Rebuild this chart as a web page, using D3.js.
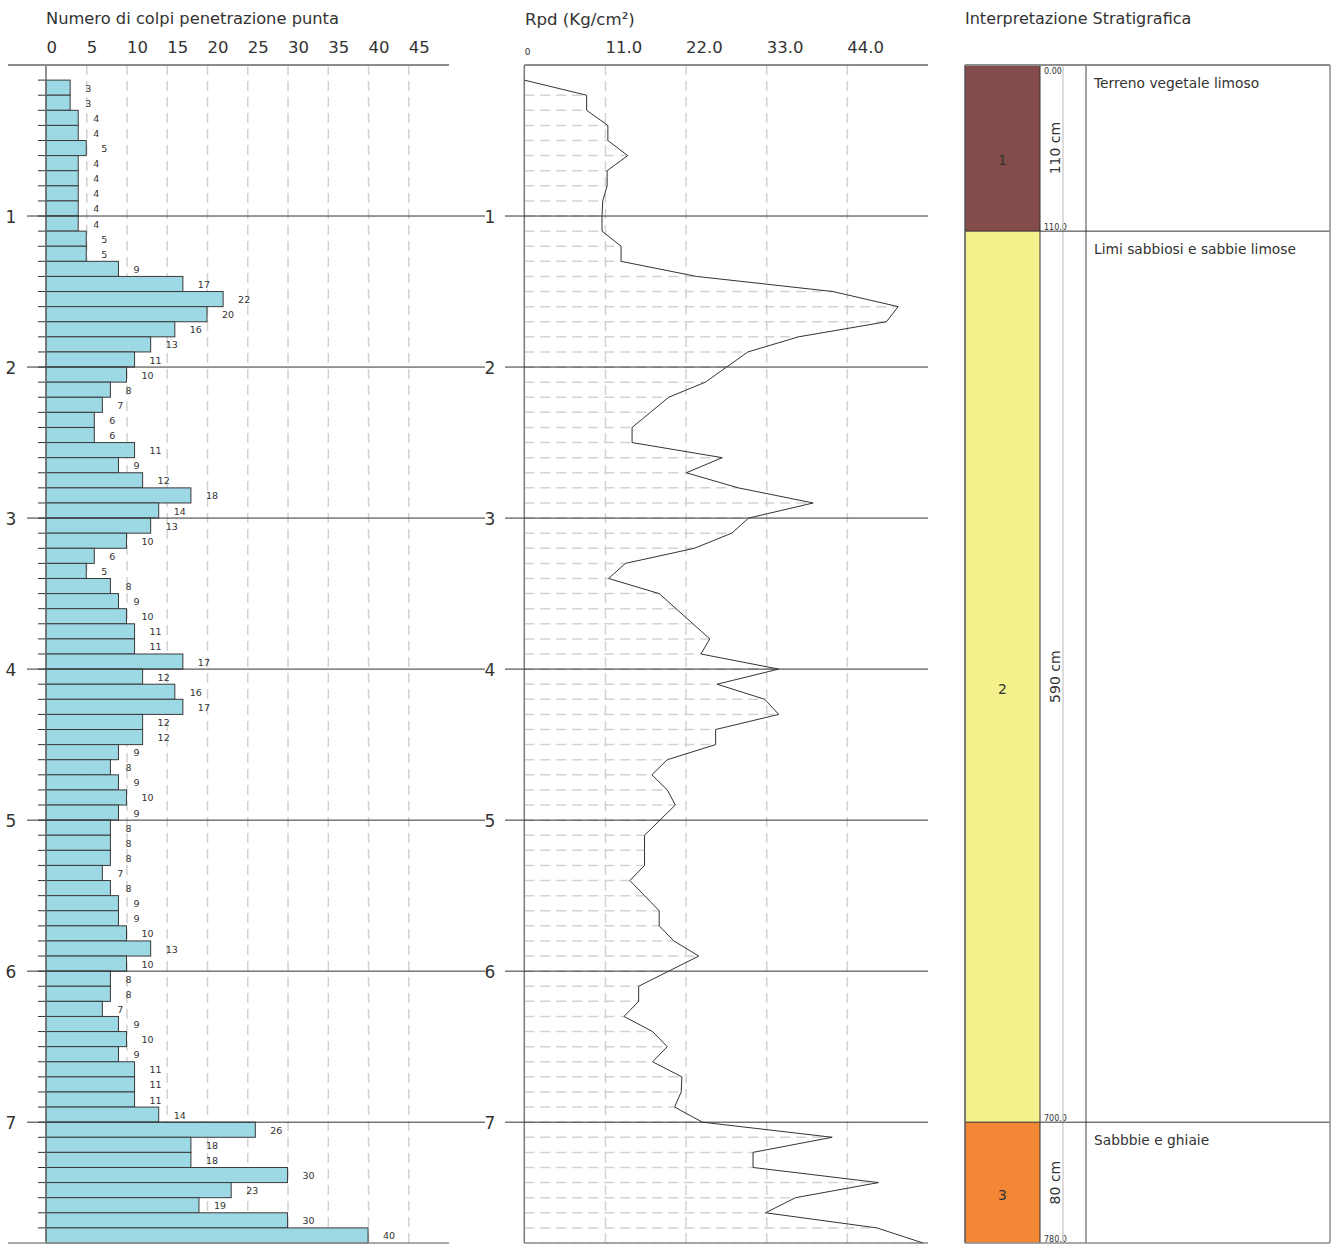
<!DOCTYPE html>
<html>
<head>
<meta charset="utf-8">
<script src="https://cdn.jsdelivr.net/npm/d3@7"></script>
<style>
  body { margin: 0; background: #fff; }
  svg { display: block; }
  text { font-family: "DejaVu Sans", Verdana, sans-serif; fill: #333; }
</style>
</head>
<body>
<svg id="chart" width="1331" height="1244"></svg>
<script>
// Penetration test: blows per 10 cm step (top depth of each step, in m)
const stepTop = [
  0.1,0.2,0.3,0.4,0.5,0.6,0.7,0.8,0.9,1.0,
  1.1,1.2,1.3,1.4,1.5,1.6,1.7,1.8,1.9,2.0,
  2.1,2.2,2.3,2.4,2.5,2.6,2.7,2.8,2.9,3.0,
  3.1,3.2,3.3,3.4,3.5,3.6,3.7,3.8,3.9,4.0,
  4.1,4.2,4.3,4.4,4.5,4.6,4.7,4.8,4.9,5.0,
  5.1,5.2,5.3,5.4,5.5,5.6,5.7,5.8,5.9,6.0,
  6.1,6.2,6.3,6.4,6.5,6.6,6.7,6.8,6.9,7.0,
  7.1,7.2,7.3,7.4,7.5,7.6,7.7
];
const blows = [
  3,3,4,4,5,4,4,4,4,4,
  5,5,9,17,22,20,16,13,11,10,
  8,7,6,6,11,9,12,18,14,13,
  10,6,5,8,9,10,11,11,17,12,
  16,17,12,12,9,8,9,10,9,8,
  8,8,7,8,9,9,10,13,10,8,
  8,7,9,10,9,11,11,11,14,26,
  18,18,30,23,19,30,40
];

// Dynamic point resistance Rpd (Kg/cm²) at each depth (m)
const rpdDepth = [
  0.1,0.2,0.3,0.4,0.5,0.6,0.7,0.8,0.9,1.0,
  1.1,1.2,1.3,1.4,1.5,1.6,1.7,1.8,1.9,2.0,
  2.1,2.2,2.3,2.4,2.5,2.6,2.7,2.8,2.9,3.0,
  3.1,3.2,3.3,3.4,3.5,3.6,3.7,3.8,3.9,4.0,
  4.1,4.2,4.3,4.4,4.5,4.6,4.7,4.8,4.9,5.0,
  5.1,5.2,5.3,5.4,5.5,5.6,5.7,5.8,5.9,6.0,
  6.1,6.2,6.3,6.4,6.5,6.6,6.7,6.8,6.9,7.0,
  7.1,7.2,7.3,7.4,7.5,7.6,7.7,7.8
];
const rpd = [
  0,8.5,8.5,11.4,11.4,14.1,11.3,11.3,10.7,10.6,
  10.6,13.2,13.2,23.5,42.1,51.0,49.4,37.4,30.5,27.6,
  24.7,19.7,17.2,14.7,14.7,27.0,22.1,29.2,39.4,30.6,
  28.3,23.2,13.8,11.5,18.4,20.7,23.0,25.3,24.1,34.7,
  26.3,32.8,34.7,26.1,26.1,19.5,17.4,19.5,20.6,18.5,
  16.4,16.4,16.4,14.4,16.4,18.4,18.4,20.4,23.8,19.7,
  15.6,15.6,13.6,17.5,19.5,17.5,21.5,21.4,20.5,24.3,
  42.0,31.2,31.2,48.3,37.0,32.9,48.1,54.4
];

// Axis ticks
const blowTicks = [0,5,10,15,20,25,30,35,40,45];
const rpdTicks = [0,11,22,33,44];
const depthTicks = [1,2,3,4,5,6,7];

// Stratigraphic layers
const layerTop = [0, 1.1, 7.0];
const layerBottom = [1.1, 7.0, 7.8];
const layerId = ["1", "2", "3"];
const layerThickness = ["110 cm", "590 cm", "80 cm"];
const layerName = ["Terreno vegetale limoso", "Limi sabbiosi e sabbie limose", "Sabbbie e ghiaie"];
const layerColor = ["#834c4a", "#f4f08b", "#f28836"];
const boundaryLabel = ["0.00", "110.0", "700.0", "780.0"];

const svg = d3.select("#chart");
const y = d3.scaleLinear().domain([0, 7.8]).range([65, 1243]);
const xB = d3.scaleLinear().domain([0, 45]).range([46, 408.3]);
const xR = d3.scaleLinear().domain([0, 55]).range([524.3, 927.5]);
const y0 = y(0), yEnd = y(7.8);
const gridColor = "#d2d2d2";
const axisGrey = "#8c8c8c";

// ---------- Left panel: blow counts ----------
const left = svg.append("g");
left.append("text").attr("x", 46).attr("y", 24).attr("font-size", 16.3)
  .text("Numero di colpi penetrazione punta");

const axB = d3.axisTop(xB).tickValues(blowTicks).tickSizeInner(-(yEnd - y0))
  .tickSizeOuter(0).tickPadding(12).tickFormat(d3.format("d"));
const gB = left.append("g").attr("transform", `translate(0,${y0})`).call(axB);
gB.select(".domain").remove();
gB.selectAll(".tick line")
  .attr("stroke", d => d === 0 ? "none" : gridColor)
  .attr("stroke-width", 1.5).attr("stroke-dasharray", "10,6");
gB.selectAll(".tick text").attr("text-anchor", "start").attr("font-size", 16.5)
  .attr("font-family", "DejaVu Sans, Verdana, sans-serif").attr("fill", "#333");

// bars
left.selectAll("rect.bar").data(stepTop).join("rect").attr("class", "bar")
  .attr("x", xB(0)).attr("y", d => y(d))
  .attr("width", (d, i) => xB(blows[i]) - xB(0))
  .attr("height", d => y(d + 0.1) - y(d))
  .attr("fill", "#9dd8e5").attr("stroke", "#3a3a3a").attr("stroke-width", 1);

// small depth ticks at each step boundary
left.selectAll("line.step").data(stepTop).join("line").attr("class", "step")
  .attr("x1", 38).attr("x2", xB(0))
  .attr("y1", d => y(d)).attr("y2", d => y(d))
  .attr("stroke", "#333").attr("stroke-width", 1);

// value labels
left.selectAll("text.val").data(stepTop).join("text").attr("class", "val")
  .attr("x", (d, i) => xB(blows[i]) + 15)
  .attr("y", d => (y(d) + y(d + 0.1)) / 2 + 4)
  .attr("font-size", 9.5).attr("fill", "#444")
  .text((d, i) => blows[i]);

// frame of the left panel
left.append("line").attr("x1", xB(0)).attr("x2", xB(0)).attr("y1", y0).attr("y2", yEnd)
  .attr("stroke", "#6e6e6e").attr("stroke-width", 1.5);
left.append("line").attr("x1", 8).attr("x2", 449).attr("y1", y0).attr("y2", y0)
  .attr("stroke", axisGrey).attr("stroke-width", 2);
left.append("line").attr("x1", 8).attr("x2", 449).attr("y1", yEnd).attr("y2", yEnd)
  .attr("stroke", axisGrey).attr("stroke-width", 1.5);

// ---------- Middle panel: Rpd ----------
const mid = svg.append("g");
mid.append("text").attr("x", 525).attr("y", 25).attr("font-size", 16.6)
  .text("Rpd (Kg/cm²)");

const axR = d3.axisTop(xR).tickValues(rpdTicks).tickSizeInner(-(yEnd - y0))
  .tickSizeOuter(0).tickPadding(12).tickFormat(d => d === 0 ? "0" : d3.format(".1f")(d));
const gR = mid.append("g").attr("transform", `translate(0,${y0})`).call(axR);
gR.select(".domain").remove();
gR.selectAll(".tick line")
  .attr("stroke", d => d === 0 ? "none" : gridColor)
  .attr("stroke-width", 1.5).attr("stroke-dasharray", "10,6");
gR.selectAll(".tick text").attr("text-anchor", "start")
  .attr("font-family", "DejaVu Sans, Verdana, sans-serif").attr("fill", "#333")
  .attr("font-size", d => d === 0 ? 9 : 16.5)
  .attr("y", d => d === 0 ? -10 : -12);

// dashed leaders from the axis to each Rpd value
mid.selectAll("line.lead").data(rpdDepth).join("line").attr("class", "lead")
  .attr("x1", xR(0)).attr("x2", (d, i) => xR(rpd[i]))
  .attr("y1", d => y(d)).attr("y2", d => y(d))
  .attr("stroke", gridColor).attr("stroke-width", 1.5).attr("stroke-dasharray", "10,6");

mid.append("line").attr("x1", xR(0)).attr("x2", xR(0)).attr("y1", y0).attr("y2", yEnd)
  .attr("stroke", "#7a7a7a").attr("stroke-width", 1.5);
mid.append("line").attr("x1", xR(0)).attr("x2", 928).attr("y1", y0).attr("y2", y0)
  .attr("stroke", axisGrey).attr("stroke-width", 2);
mid.append("line").attr("x1", xR(0)).attr("x2", 928).attr("y1", yEnd).attr("y2", yEnd)
  .attr("stroke", axisGrey).attr("stroke-width", 1.5);

// ---------- Depth reference lines (1 m spacing) ----------
const dl = svg.append("g");
dl.selectAll("line.dl").data(depthTicks).join("line").attr("class", "dl")
  .attr("x1", 27).attr("x2", 485).attr("y1", d => y(d)).attr("y2", d => y(d))
  .attr("stroke", "#333").attr("stroke-width", 1);
dl.selectAll("line.dr").data(depthTicks).join("line").attr("class", "dr")
  .attr("x1", 505).attr("x2", 928).attr("y1", d => y(d)).attr("y2", d => y(d))
  .attr("stroke", "#333").attr("stroke-width", 1);
dl.selectAll("text.dlab").data(depthTicks).join("text").attr("class", "dlab")
  .attr("x", 11).attr("y", d => y(d) + 6.5).attr("text-anchor", "middle")
  .attr("font-size", 17).text(d => d);
dl.selectAll("text.dlab2").data(depthTicks).join("text").attr("class", "dlab2")
  .attr("x", 490).attr("y", d => y(d) + 6.5).attr("text-anchor", "middle")
  .attr("font-size", 17).text(d => d);

// Rpd profile
const line = d3.line().x((d, i) => xR(rpd[i])).y(d => y(d));
mid.append("path").datum(rpdDepth).attr("d", line)
  .attr("fill", "none").attr("stroke", "#333").attr("stroke-width", 1);

// ---------- Right panel: stratigraphy ----------
const right = svg.append("g");
right.append("text").attr("x", 965).attr("y", 24).attr("font-size", 16)
  .text("Interpretazione Stratigrafica");

const colX0 = 965, colX1 = 1040, scaleX = 1063, descX = 1086, frameX = 1330;

right.selectAll("rect.layer").data(layerTop).join("rect").attr("class", "layer")
  .attr("x", colX0).attr("y", d => y(d))
  .attr("width", colX1 - colX0).attr("height", (d, i) => y(layerBottom[i]) - y(d))
  .attr("fill", (d, i) => layerColor[i]);

right.selectAll("text.lid").data(layerTop).join("text").attr("class", "lid")
  .attr("x", (colX0 + colX1) / 2)
  .attr("y", (d, i) => (y(d) + y(layerBottom[i])) / 2 + 17)
  .attr("text-anchor", "middle").attr("font-size", 14).text((d, i) => layerId[i]);

right.selectAll("text.thk").data(layerTop).join("text").attr("class", "thk")
  .attr("transform", (d, i) => `translate(1060,${(y(d) + y(layerBottom[i])) / 2}) rotate(-90)`)
  .attr("text-anchor", "middle").attr("font-size", 14).text((d, i) => layerThickness[i]);

right.selectAll("text.desc").data(layerTop).join("text").attr("class", "desc")
  .attr("x", 1094).attr("y", d => y(d) + 23)
  .attr("font-size", 13.8).text((d, i) => layerName[i]);

const bounds = [layerTop[0]].concat(layerBottom);
right.selectAll("text.bnd").data(bounds).join("text").attr("class", "bnd")
  .attr("x", 1044).attr("y", (d, i) => i === 0 ? y(d) + 9 : y(d) - 1.5)
  .attr("font-size", 8).text((d, i) => boundaryLabel[i]);

// column rules and frame
right.append("line").attr("x1", scaleX).attr("x2", scaleX).attr("y1", y0).attr("y2", yEnd)
  .attr("stroke", "#d0d0d0").attr("stroke-width", 1.5);
right.append("line").attr("x1", colX1).attr("x2", colX1).attr("y1", y0).attr("y2", yEnd)
  .attr("stroke", "#333").attr("stroke-width", 1);
right.append("line").attr("x1", descX).attr("x2", descX).attr("y1", y0).attr("y2", yEnd)
  .attr("stroke", "#444").attr("stroke-width", 1);
right.selectAll("line.lb").data(layerBottom.slice(0, 2)).join("line").attr("class", "lb")
  .attr("x1", colX0).attr("x2", frameX).attr("y1", d => y(d)).attr("y2", d => y(d))
  .attr("stroke", "#333").attr("stroke-width", 1);
right.append("line").attr("x1", colX0).attr("x2", colX0).attr("y1", y0).attr("y2", yEnd)
  .attr("stroke", "#555").attr("stroke-width", 1.5);
right.append("line").attr("x1", frameX).attr("x2", frameX).attr("y1", y0).attr("y2", yEnd)
  .attr("stroke", axisGrey).attr("stroke-width", 1.5);
right.append("line").attr("x1", colX0).attr("x2", frameX).attr("y1", y0).attr("y2", y0)
  .attr("stroke", axisGrey).attr("stroke-width", 2);
right.append("line").attr("x1", colX0).attr("x2", frameX).attr("y1", yEnd).attr("y2", yEnd)
  .attr("stroke", axisGrey).attr("stroke-width", 1.5);
</script>
</body>
</html>
